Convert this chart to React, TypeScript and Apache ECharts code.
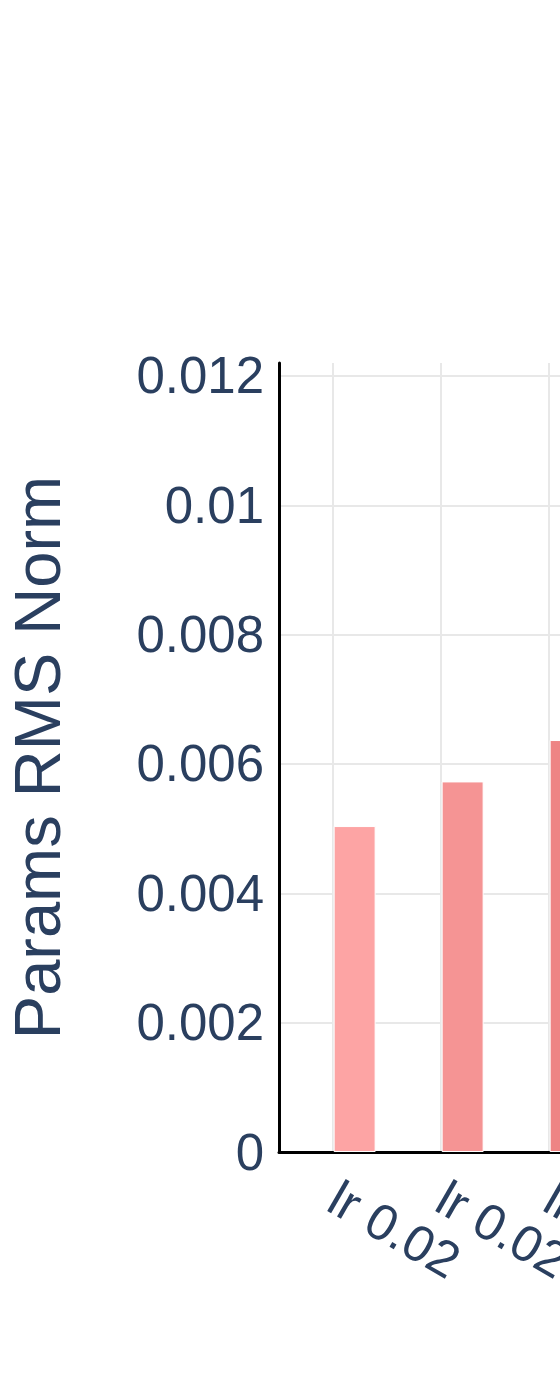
import React, { useEffect, useRef } from "react";
import * as echarts from "echarts";

const categories = ["lr 0.02", "lr 0.025", "lr 0.03"];
const rmsNorm = [0.00504, 0.00573, 0.00637];
const barColors = ["#fda4a4", "#f59494", "#ee8484"];
const yTicks = { min: 0, max: 0.0122, interval: 0.002 };

const CHART_W = 620;

export default function App() {
  const ref = useRef<HTMLDivElement>(null);
  useEffect(() => {
    if (!ref.current) return;
    const chart = echarts.init(ref.current, null, { renderer: "svg" });
    const font = "'Liberation Sans', Arial, sans-serif";
    const textColor = "#2a3f5f";
    chart.setOption({
      animation: false,
      backgroundColor: "#ffffff",
      grid: {
        left: 279,
        top: 363,
        bottom: 234,
        right: CHART_W - 279 - 324,
        containLabel: false,
        outerBoundsMode: "none",
      },
      xAxis: {
        type: "category",
        data: categories,
        axisLine: { show: true, lineStyle: { color: "#000", width: 3 } },
        axisTick: { show: false, alignWithLabel: true },
        splitLine: { show: true, alignWithLabel: true, lineStyle: { color: "#e8e8e8", width: 2 } },
        axisLabel: {
          rotate: -30,
          margin: 42,
          fontSize: 51,
          color: textColor,
          fontFamily: font,
          interval: 0,
        },
      },
      yAxis: {
        type: "value",
        min: yTicks.min,
        max: yTicks.max,
        interval: yTicks.interval,
        name: "Params RMS Norm",
        nameLocation: "middle",
        nameGap: 209,
        nameTextStyle: { fontSize: 65, color: textColor, fontFamily: font },
        axisLine: { show: true, lineStyle: { color: "#000", width: 3 } },
        axisTick: { show: false },
        splitLine: { show: true, showMaxLine: false, lineStyle: { color: "#e8e8e8", width: 2 } },
        axisLabel: {
          showMaxLabel: false,
          margin: 15,
          fontSize: 51,
          color: textColor,
          fontFamily: font,
          formatter: (v: number) => String(parseFloat(v.toFixed(4))),
        },
      },
      series: [
        {
          type: "bar",
          name: "other",
          data: categories.map(() => null),
          barWidth: 42,
          barGap: "3%",
        },
        {
          type: "bar",
          name: "Params RMS Norm",
          barWidth: 42,
          barGap: "3%",
          data: rmsNorm.map((v, i) => ({
            value: v,
            itemStyle: { color: barColors[i], borderColor: "#ffffff", borderWidth: 1 },
          })),
        },
      ],
    });
    return () => chart.dispose();
  }, []);
  return (
    <div style={{ position: "fixed", left: 0, top: 0, width: 560, height: 1386, overflow: "hidden", background: "#fff" }}>
      <div ref={ref} style={{ width: CHART_W, height: 1386 }} />
    </div>
  );
}
